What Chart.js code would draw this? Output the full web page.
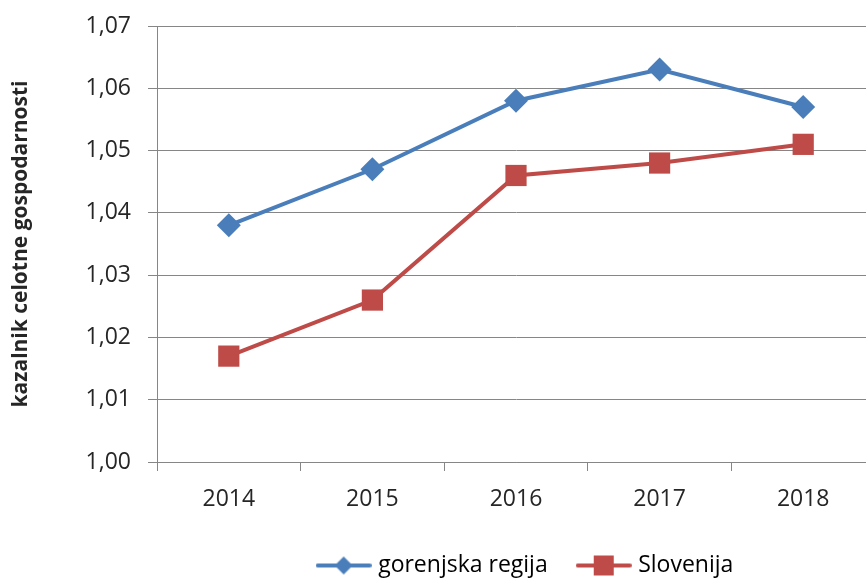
<!DOCTYPE html>
<html>
<head>
<meta charset="utf-8">
<script src="https://cdn.jsdelivr.net/npm/chart.js@4/dist/chart.umd.min.js"></script>
<style>
  html, body { margin: 0; padding: 0; background: #fff; overflow: hidden; }
  #wrap { width: 892px; height: 579px; }
</style>
</head>
<body>
<div id="wrap"><canvas id="chart" width="892" height="579"></canvas></div>
<script>
// data
const years = ['2014', '2015', '2016', '2017', '2018'];
const gorenjska = [1.038, 1.047, 1.058, 1.063, 1.057];
const slovenija = [1.017, 1.026, 1.046, 1.048, 1.051];
const seriesNames = ['gorenjska regija', 'Slovenija'];
const yMin = 1.00, yMax = 1.07, yStep = 0.01;

const BLUE = '#4a7ebb';
const RED = '#be4b48';
const GRID = '#868686';
const TEXT = '#262626';
const FONT = '"Open Sans", Lato, sans-serif';

// legend sample: line with its marker in the middle
function legendSample(color, style) {
    const c = document.createElement('canvas');
    c.width = 56; c.height = 24;
    const g = c.getContext('2d');
    g.strokeStyle = color;
    g.lineWidth = 4;
    g.lineCap = 'round';
    g.beginPath(); g.moveTo(2, 12); g.lineTo(54, 12); g.stroke();
    g.fillStyle = color;
    g.beginPath();
    if (style === 'diamond') {
        g.moveTo(28, 3); g.lineTo(37, 12); g.lineTo(28, 21); g.lineTo(19, 12);
    } else {
        g.rect(18, 2, 20, 20);
    }
    g.closePath(); g.fill();
    return c;
}

// legend in the reference sits a bit right of the plot centre
const legendShift = {
    id: 'legendShift',
    afterLayout(ch) {
        if (ch.legend) { ch.legend.left += 11; ch.legend.right += 11; }
    }
};

const ctx = document.getElementById('chart').getContext('2d');
const chart = new Chart(ctx, {
    type: 'line',
    data: {
        labels: years,
        datasets: [{
            label: seriesNames[0],
            data: gorenjska,
            borderColor: BLUE,
            backgroundColor: BLUE,
            borderWidth: 4,
            pointStyle: 'rectRot',
            pointRadius: 12,
            pointHoverRadius: 12,
            pointBorderWidth: 0,
            tension: 0
        }, {
            label: seriesNames[1],
            data: slovenija,
            borderColor: RED,
            backgroundColor: RED,
            borderWidth: 4,
            pointStyle: 'rect',
            pointRadius: 15,
            pointHoverRadius: 15,
            pointBorderWidth: 0,
            tension: 0
        }]
    },
    plugins: [legendShift],
    options: {
        responsive: false,
        animation: false,
        layout: { padding: { top: 26, right: 17, bottom: -8, left: 0 } },
        plugins: {
            tooltip: { enabled: false },
            legend: {
                position: 'bottom',
                fullSize: false,
                labels: {
                    usePointStyle: true,
                    pointStyleWidth: 46,
                    padding: 33,
                    color: TEXT,
                    font: { family: FONT, size: 23 },
                    generateLabels: (ch) => ch.data.datasets.map((ds, i) => ({
                        text: ds.label,
                        fillStyle: ds.borderColor,
                        strokeStyle: ds.borderColor,
                        lineWidth: 0,
                        pointStyle: legendSample(ds.borderColor, i === 0 ? 'diamond' : 'square'),
                        datasetIndex: i
                    }))
                }
            }
        },
        scales: {
            x: {
                offset: true,
                afterFit: (s) => { s.height = 59; },
                grid: {
                    offset: true,
                    drawOnChartArea: false,
                    drawTicks: true,
                    tickLength: 9,
                    color: GRID
                },
                border: { color: GRID },
                ticks: {
                    padding: 15,
                    color: TEXT,
                    font: { family: FONT, size: 23 }
                }
            },
            y: {
                min: yMin,
                max: yMax,
                afterFit: (s) => { s.width = 157; s.paddingTop = 0; s.paddingBottom = 0; },
                grid: {
                    color: GRID,
                    tickLength: 9
                },
                border: { color: GRID },
                ticks: {
                    stepSize: yStep,
                    padding: 17,
                    color: TEXT,
                    font: { family: FONT, size: 23 },
                    callback: (v) => v.toFixed(2).replace('.', ',')
                },
                title: {
                    display: true,
                    text: 'kazalnik celotne gospodarnosti',
                    color: TEXT,
                    font: { family: FONT, size: 21, weight: 'bold' },
                    padding: { top: 8, bottom: 0 }
                }
            }
        }
    }
});
</script>
</body>
</html>
